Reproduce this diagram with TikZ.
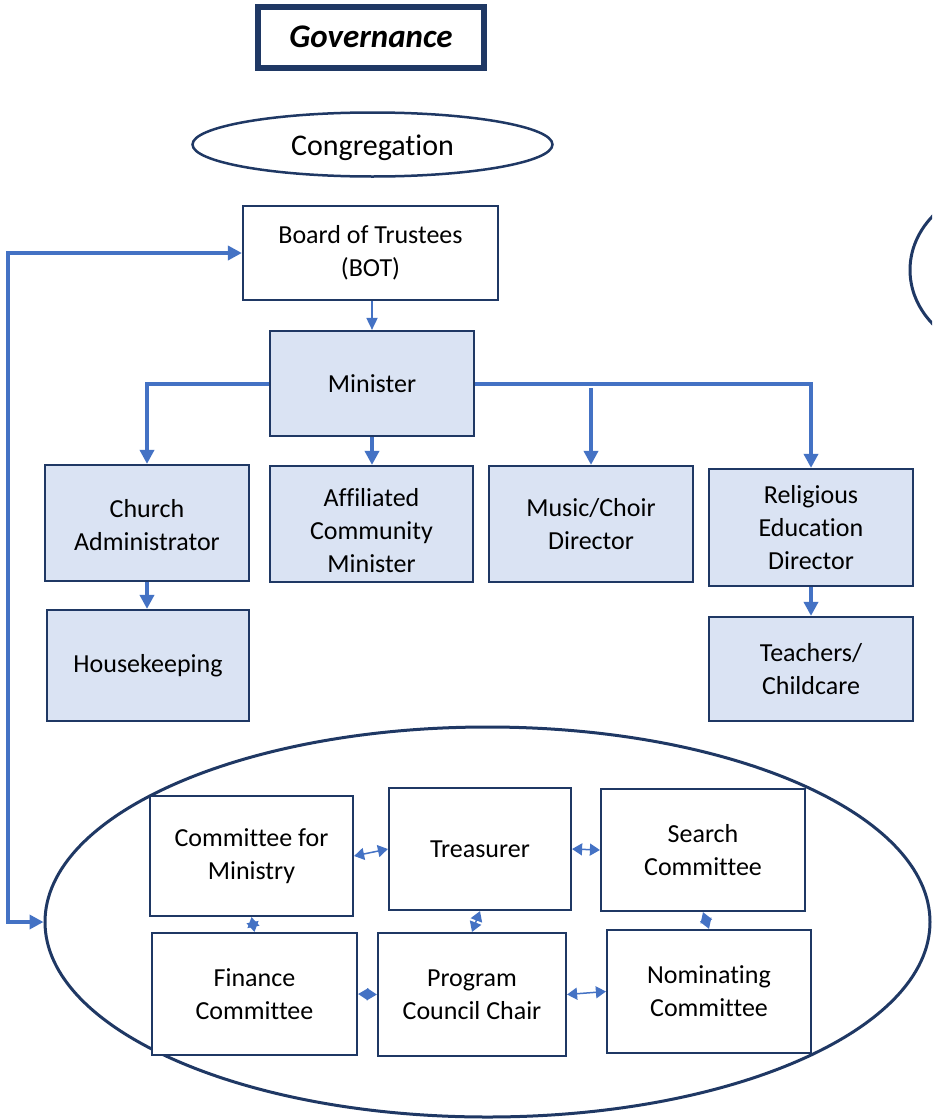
\documentclass[tikz,border=0pt]{standalone}
\usepackage{fontspec}
\setmainfont[Ligatures={NoCommon,NoContextual},Contextuals={NoAlternate}]{Carlito}
\usetikzlibrary{arrows.meta,shapes.geometric}
\definecolor{navy}{RGB}{31,56,100}
\definecolor{linkblue}{RGB}{68,114,196}
\definecolor{paleblue}{RGB}{218,227,243}
\tikzset{
  txt/.style={font=\fontsize{26}{33}\selectfont, align=center},
  wbox/.style={txt, rectangle, draw=navy, line width=2.2pt, fill=white, inner sep=0pt},
  bbox/.style={wbox, fill=paleblue},
  conn/.style={draw=linkblue, line width=4pt, -{Triangle[length=14pt,width=14pt]}},
  thinconn/.style={draw=linkblue, line width=1.8pt, -{Triangle[length=12pt,width=11pt]}},
  dbl/.style={draw=linkblue, line width=1.5pt, {Triangle[length=10pt,width=12pt]}-{Triangle[length=10pt,width=12pt]}},
  sidelink/.style={draw=linkblue, line width=4pt, {Triangle[length=14pt,width=14pt]}-{Triangle[length=14pt,width=14pt]}},
}
\newcommand{\lowertext}[2]{\raisebox{-#1}[\height][\depth]{#2}}
\begin{document}
\begin{tikzpicture}[x=1pt,y=-1pt]
\useasboundingbox (0,0) rectangle (932,1119);
\fill[white] (0,0) rectangle (932,1119);
\begin{scope}
\clip (0,0) rectangle (932,1119);
\node[ellipse, draw=navy, line width=3pt, minimum width=200pt, minimum height=170pt, inner sep=0pt] (rightell) at (1010,270) {};
\end{scope}

% title
\node[rectangle, draw=navy, line width=6pt, minimum width=226pt, minimum height=61pt, inner sep=0pt,
      font=\fontsize{33}{40}\selectfont\bfseries\itshape] (title) at (371,37) {Governance};

% congregation
\node[ellipse, draw=navy, line width=2.5pt, minimum width=360pt, minimum height=64pt, inner sep=0pt,
      font=\fontsize{30}{36}\selectfont] (cong) at (372.5,144.5) {\lowertext{3pt}{Congregation}};

% staff structure
\node[wbox, minimum width=255pt, minimum height=94pt] (bot) at (370.5,253) {Board of Trustees\\(BOT)};
\node[bbox, minimum width=204pt, minimum height=105pt] (min) at (372,383.5) {Minister};
\node[bbox, minimum width=204pt, minimum height=116pt] (ca) at (147,523) {\lowertext{2pt}{\parbox{200pt}{\centering Church\\Administrator}}};
\node[bbox, minimum width=203pt, minimum height=116pt] (aff) at (371.5,524) {\lowertext{7pt}{\parbox{200pt}{\centering Affiliated\\Community\\Minister}}};
\node[bbox, minimum width=204pt, minimum height=116pt] (mus) at (591,524) {Music/Choir\\Director};
\node[bbox, minimum width=204pt, minimum height=117pt] (re) at (811,527.5) {Religious\\Education\\Director};
\node[bbox, minimum width=202pt, minimum height=111pt] (hk) at (148,665.5) {Housekeeping};
\node[bbox, minimum width=204pt, minimum height=104pt] (tc) at (811,669) {Teachers/\\Childcare};

% connectors of staff
\draw[thinconn] (bot.south -| min.north) -- (min.north);
\draw[conn] (min.west) -| (ca.north);
\draw[conn] (min.south) -- (min.south |- aff.north);
\draw[conn] (min.east) -| (re.north);
\coordinate (mb) at (591,388);
\draw[conn] (mb) -- (mus.north);
\draw[conn] (ca.south) -- (ca.south |- hk.north);
\draw[conn] (re.south) -- (re.south |- tc.north);

% big ellipse and committees
\node[ellipse, draw=navy, line width=3pt, minimum width=885pt, minimum height=390pt, inner sep=0pt] (big) at (487.5,922) {};
\node[wbox, minimum width=203pt, minimum height=120pt] (cfm) at (251.5,856) {Committee for\\Ministry};
\node[wbox, minimum width=182pt, minimum height=122pt] (tr) at (480,849) {Treasurer};
\node[wbox, minimum width=204pt, minimum height=122pt] (sc) at (703,850) {Search\\Committee};
\node[wbox, minimum width=205pt, minimum height=122pt] (fc) at (254.5,994) {Finance\\Committee};
\node[wbox, minimum width=188pt, minimum height=123pt] (pcc) at (472,994.5) {Program\\Council Chair};
\node[wbox, minimum width=204pt, minimum height=123pt] (nc) at (709,991.5) {Nominating\\Committee};

\draw[dbl] (cfm.east) -- (tr.west);
\draw[dbl] (tr.east) -- (sc.west);
\draw[dbl] (cfm.south) -- (fc.north);
\draw[dbl] (tr.south) -- (pcc.north);
\draw[dbl] (sc.south) -- (nc.north);
\draw[dbl] (fc.east) -- (pcc.west);
\draw[dbl] (pcc.east) -- (nc.west);

% side link
\coordinate (lc) at (8,922);
\draw[sidelink] (big.west) -- (lc) |- (bot.west);
\end{tikzpicture}
\end{document}
